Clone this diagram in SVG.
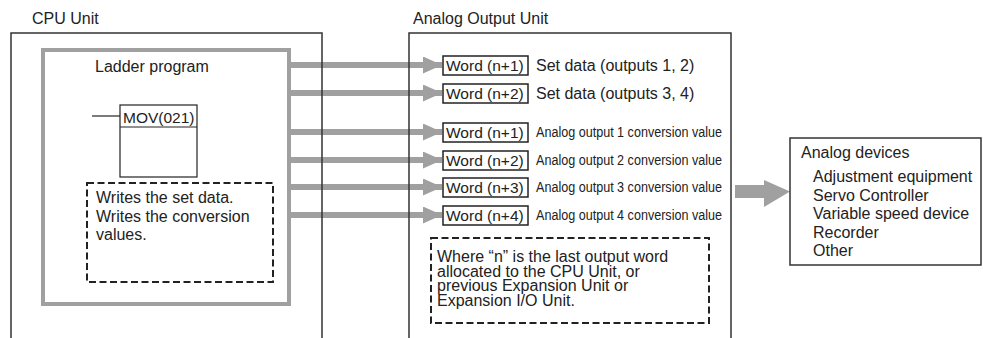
<svg xmlns="http://www.w3.org/2000/svg" width="983" height="338" viewBox="0 0 983 338">
<defs>
<style>
text{font-family:"Liberation Sans",Arial,sans-serif;fill:#222;font-size:16px}
.box{fill:none;stroke:#333;stroke-width:1.5}
.wbox{fill:#fff;stroke:#222;stroke-width:1.5}
.dash{fill:none;stroke:#222;stroke-width:2;stroke-dasharray:7 3.5}
.gray{fill:none;stroke:#a0a0a0;stroke-width:4}
.bar{stroke:#a0a0a0;stroke-width:6}
.head{fill:#a0a0a0}
.cond{font-size:14px}
.word{font-size:15.5px}
</style>
<marker id="ah" viewBox="0 0 19 17" refX="19" refY="8.5" markerWidth="19" markerHeight="17" markerUnits="userSpaceOnUse" orient="auto">
<path d="M0,0 L19,8.5 L0,17 Z" fill="#a0a0a0"/>
</marker>
</defs>
<g id="connectors">
<line class="bar" x1="289" y1="65" x2="442" y2="65" marker-end="url(#ah)"/>
<line class="bar" x1="289" y1="93" x2="442" y2="93" marker-end="url(#ah)"/>
<line class="bar" x1="289" y1="132" x2="442" y2="132" marker-end="url(#ah)"/>
<line class="bar" x1="289" y1="160" x2="442" y2="160" marker-end="url(#ah)"/>
<line class="bar" x1="289" y1="187" x2="442" y2="187" marker-end="url(#ah)"/>
<line class="bar" x1="289" y1="215" x2="442" y2="215" marker-end="url(#ah)"/>
<path class="head" d="M735,185 L764,185 L764,180 L790,191.5 L764,207 L764,198 L735,198 Z"/>
</g>
<g id="cpu-unit">
<text x="32" y="24">CPU Unit</text>
<path class="box" d="M11,338 V33 H322 V338"/>
</g>
<g id="ladder-program">
<rect class="gray" x="43" y="50" width="246" height="254"/>
<text x="95" y="72">Ladder program</text>
</g>
<g id="mov">
<line x1="92" y1="116" x2="120" y2="116" stroke="#222" stroke-width="1.2"/>
<rect x="120" y="105" width="77" height="72" fill="none" stroke="#222" stroke-width="1.2"/>
<line x1="120" y1="127" x2="197" y2="127" stroke="#222" stroke-width="1.2"/>
<text x="123" y="123" style="font-size:15.5px">MOV(021)</text>
</g>
<g id="cpu-note">
<rect class="dash" x="87" y="183" width="186" height="99"/>
<text x="96" y="203">Writes the set data.</text>
<text x="96" y="222">Writes the conversion</text>
<text x="96" y="240">values.</text>
</g>
<g id="analog-output-unit">
<text x="413" y="24">Analog Output Unit</text>
<path class="box" d="M409,338 V33 H731 V338"/>
</g>
<g id="word1"><rect class="wbox" x="443" y="56" width="85" height="19"/><text class="word" x="446" y="71">Word (n+1)</text><text x="536" y="71">Set data (outputs 1, 2)</text></g>
<g id="word2"><rect class="wbox" x="443" y="84" width="85" height="19"/><text class="word" x="446" y="99">Word (n+2)</text><text x="536" y="99">Set data (outputs 3, 4)</text></g>
<g id="word3"><rect class="wbox" x="443" y="123" width="85" height="19"/><text class="word" x="446" y="138">Word (n+1)</text><text class="cond" x="536" y="137" textLength="186" lengthAdjust="spacingAndGlyphs">Analog output 1 conversion value</text></g>
<g id="word4"><rect class="wbox" x="443" y="151" width="85" height="19"/><text class="word" x="446" y="166">Word (n+2)</text><text class="cond" x="536" y="165" textLength="186" lengthAdjust="spacingAndGlyphs">Analog output 2 conversion value</text></g>
<g id="word5"><rect class="wbox" x="443" y="178" width="85" height="19"/><text class="word" x="446" y="193">Word (n+3)</text><text class="cond" x="536" y="192" textLength="186" lengthAdjust="spacingAndGlyphs">Analog output 3 conversion value</text></g>
<g id="word6"><rect class="wbox" x="443" y="206" width="85" height="19"/><text class="word" x="446" y="221">Word (n+4)</text><text class="cond" x="536" y="220" textLength="186" lengthAdjust="spacingAndGlyphs">Analog output 4 conversion value</text></g>
<g id="n-note">
<rect class="dash" x="431" y="238" width="278" height="85"/>
<text x="437" y="262">Where “n” is the last output word</text>
<text x="437" y="276.5">allocated to the CPU Unit, or</text>
<text x="437" y="291">previous Expansion Unit or</text>
<text x="437" y="305.5">Expansion I/O Unit.</text>
</g>
<g id="analog-devices">
<rect class="box" x="790" y="138" width="191" height="127"/>
<text x="801" y="158">Analog devices</text>
<text x="813" y="182">Adjustment equipment</text>
<text x="813" y="200.5">Servo Controller</text>
<text x="813" y="219">Variable speed device</text>
<text x="813" y="237.5">Recorder</text>
<text x="813" y="256">Other</text>
</g>
</svg>
